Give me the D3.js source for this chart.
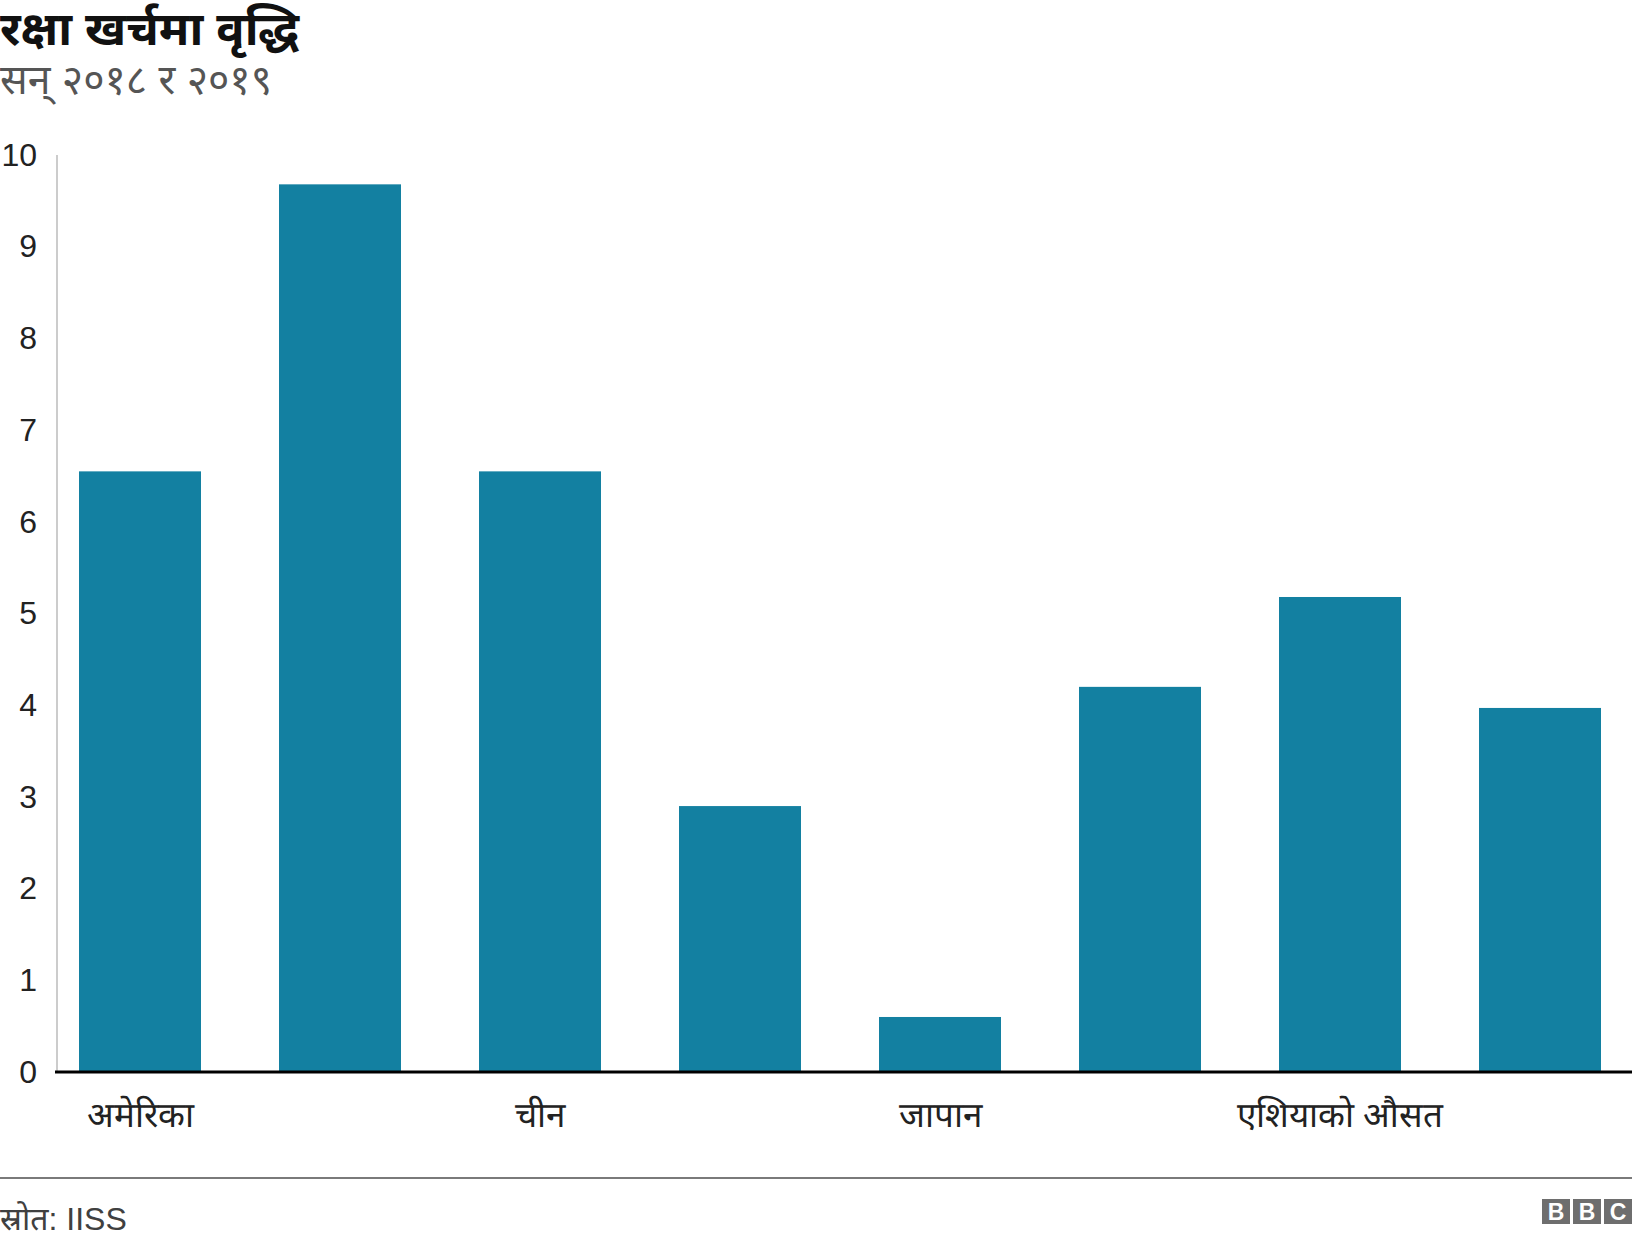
<!DOCTYPE html>
<html>
<head>
<meta charset="utf-8">
<script src="https://cdn.jsdelivr.net/npm/d3@7"></script>
<style>
  body { margin: 0; background: #fff; }
  svg text { font-family: "Liberation Sans", Arial, "Noto Sans", sans-serif; }
</style>
</head>
<body>
<svg id="chart" width="1632" height="1246"></svg>
<script>
// data
const labels = ["अमेरिका", "", "चीन", "", "जापान", "", "एशियाको औसत", ""];
const values = [6.55, 9.68, 6.55, 2.9, 0.6, 4.2, 5.18, 3.97];
const yTicks = [0, 1, 2, 3, 4, 5, 6, 7, 8, 9, 10];

const svg = d3.select("#chart");
const W = 1632, H = 1246;

// title block
svg.append("text")
  .attr("x", 0).attr("y", 45)
  .attr("font-size", 47).attr("font-weight", "bold")
  .attr("fill", "#111")
  .text("रक्षा खर्चमा वृद्धि");

svg.append("text")
  .attr("x", 0).attr("y", 94)
  .attr("font-size", 41)
  .attr("fill", "#555")
  .text("सन् २०१८ र २०१९");

const x = d3.scaleBand()
  .domain(d3.range(values.length))
  .range([40, 1640])
  .paddingInner(0.39)
  .paddingOuter(0.195);

const y = d3.scaleLinear()
  .domain([0, 10])
  .range([1072, 155]);

// y axis line
svg.append("line")
  .attr("x1", 57).attr("x2", 57)
  .attr("y1", y(10)).attr("y2", y(0))
  .attr("stroke", "#cccccc").attr("stroke-width", 2);

// y axis labels
const yAxis = svg.append("g")
  .attr("transform", "translate(37,0)")
  .call(d3.axisLeft(y).tickValues(yTicks).tickSize(0).tickPadding(0));
yAxis.select(".domain").remove();
yAxis.selectAll("text")
  .attr("font-size", 32)
  .attr("fill", "#222")
  .style("font-family", "'Liberation Sans', Arial, sans-serif");

// bars
svg.selectAll(".bar")
  .data(values)
  .enter().append("rect")
  .attr("class", "bar")
  .attr("x", (d, i) => x(i))
  .attr("y", d => y(d))
  .attr("width", x.bandwidth())
  .attr("height", d => y(0) - y(d))
  .attr("fill", "#1380a1");

// baseline
svg.append("line")
  .attr("x1", 55).attr("x2", W)
  .attr("y1", y(0)).attr("y2", y(0))
  .attr("stroke", "#000").attr("stroke-width", 3);

// x axis labels
const xAxis = svg.append("g")
  .attr("transform", `translate(0,${y(0)})`)
  .call(d3.axisBottom(x).tickFormat(i => labels[i]).tickSize(0).tickPadding(30));
xAxis.select(".domain").remove();
xAxis.selectAll("text")
  .attr("font-size", 35)
  .attr("fill", "#222")
  .style("font-family", "'Liberation Sans', Arial, sans-serif");

// footer
svg.append("line")
  .attr("x1", 0).attr("x2", W)
  .attr("y1", 1178).attr("y2", 1178)
  .attr("stroke", "#7a7a7a").attr("stroke-width", 2);

svg.append("text")
  .attr("x", 0).attr("y", 1230)
  .attr("font-size", 32)
  .attr("fill", "#404040")
  .text("स्रोत: IISS");

// BBC blocks
const logo = svg.append("g").attr("transform", "translate(1542,1199)");
["B", "B", "C"].forEach((c, i) => {
  logo.append("rect")
    .attr("x", i * 31).attr("y", 0)
    .attr("width", 28).attr("height", 25)
    .attr("fill", "#6e6e6e");
  logo.append("text")
    .attr("x", i * 31 + 14).attr("y", 21)
    .attr("text-anchor", "middle")
    .attr("font-size", 23).attr("font-weight", "bold")
    .attr("fill", "#fff")
    .text(c);
});
</script>
</body>
</html>
